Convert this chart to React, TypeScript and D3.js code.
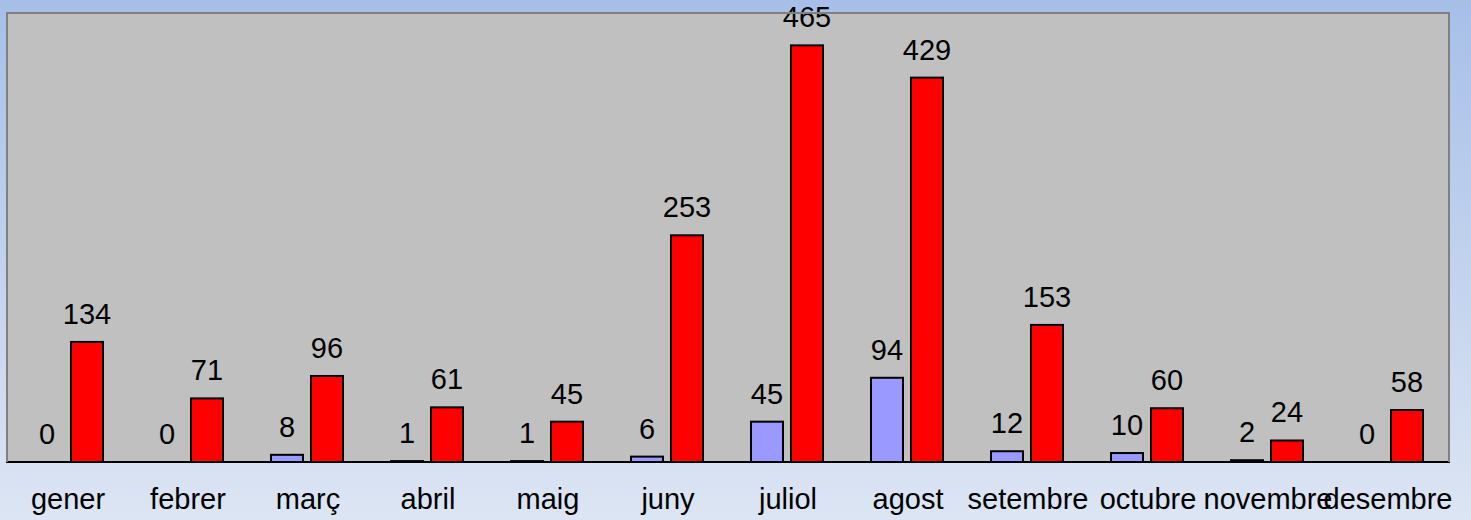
import React, { useRef, useEffect } from 'react';
import * as d3 from 'd3';

// monthly values (blue = first series, red = second series)
const months = ['gener', 'febrer', 'març', 'abril', 'maig', 'juny', 'juliol', 'agost', 'setembre', 'octubre', 'novembre', 'desembre'];
const blueValues = [0, 0, 8, 1, 1, 6, 45, 94, 12, 10, 2, 0];
const redValues = [134, 71, 96, 61, 45, 253, 465, 429, 153, 60, 24, 58];
const yDomain = [0, 500];

const W = 1471;
const H = 520;

const App = () => {
  const ref = useRef<SVGSVGElement>(null);

  useEffect(() => {
    const svg = d3.select(ref.current);
    svg.selectAll('*').remove();

    // page gradient
    const defs = svg.append('defs');
    const grad = defs.append('linearGradient')
      .attr('id', 'bg')
      .attr('x1', 0).attr('y1', 0).attr('x2', 0).attr('y2', 1);
    grad.append('stop').attr('offset', '0%').attr('stop-color', '#a7bfe8');
    grad.append('stop').attr('offset', '100%').attr('stop-color', '#dce5f3');
    svg.append('rect').attr('width', W).attr('height', H).attr('fill', 'url(#bg)');

    const plot = { left: 8, right: 1448, top: 14, bottom: 462 };

    const x = d3.scaleBand()
      .domain(months)
      .range([plot.left, plot.right])
      .padding(0);

    const sub = d3.scaleBand()
      .domain(['blue', 'red'])
      .range([22, 96])
      .paddingInner(0.15)
      .paddingOuter(0);

    const y = d3.scaleLinear()
      .domain(yDomain)
      .range([plot.bottom, plot.top]);

    // plot area
    svg.append('rect')
      .attr('x', plot.left).attr('y', plot.top)
      .attr('width', plot.right - plot.left)
      .attr('height', plot.bottom - plot.top)
      .attr('fill', '#c0c0c0');

    const border = svg.append('path')
      .attr('d', `M${plot.left - 1},${plot.bottom} V${plot.top - 1} H${plot.right + 1} V${plot.bottom}`)
      .attr('fill', 'none')
      .attr('stroke', '#808080')
      .attr('stroke-width', 2);

    const series = [
      { key: 'blue', values: blueValues, color: '#9999ff' },
      { key: 'red', values: redValues, color: '#ff0000' },
    ];

    const bw = sub.bandwidth();

    series.forEach(s => {
      const rows = months.map((m, i) => ({ m, v: s.values[i] }));

      svg.append('g').selectAll('rect')
        .data(rows.filter(d => d.v > 0))
        .join('rect')
        .attr('x', d => x(d.m)! + sub(s.key)! + 1)
        .attr('width', bw - 2)
        .attr('y', d => y(d.v))
        .attr('height', d => y(0) - y(d.v))
        .attr('fill', s.color)
        .attr('stroke', '#000')
        .attr('stroke-width', 2);

      svg.append('g').selectAll('text')
        .data(rows)
        .join('text')
        .attr('x', d => x(d.m)! + sub(s.key)! + bw / 2)
        .attr('y', d => y(d.v) - 18)
        .attr('text-anchor', 'middle')
        .style('font-family', '"Liberation Sans", Arial, sans-serif')
        .style('font-size', '29px')
        .attr('fill', '#000')
        .text(d => d.v);
    });

    // x axis line
    svg.append('line')
      .attr('x1', plot.left - 2).attr('x2', plot.right + 2)
      .attr('y1', plot.bottom).attr('y2', plot.bottom)
      .attr('stroke', '#000')
      .attr('stroke-width', 2);

    border.raise();

    // category labels
    svg.append('g').selectAll('text')
      .data(months)
      .join('text')
      .attr('x', d => x(d)! + x.bandwidth() / 2)
      .attr('y', 509)
      .attr('text-anchor', 'middle')
      .style('font-family', '"Liberation Sans", Arial, sans-serif')
      .style('font-size', '29px')
      .attr('fill', '#000')
      .text(d => d);
  }, []);

  return (
    <svg
      ref={ref}
      width={W}
      height={H}
      style={{ position: 'absolute', left: 0, top: 0, display: 'block' }}
    />
  );
};

export default App;
